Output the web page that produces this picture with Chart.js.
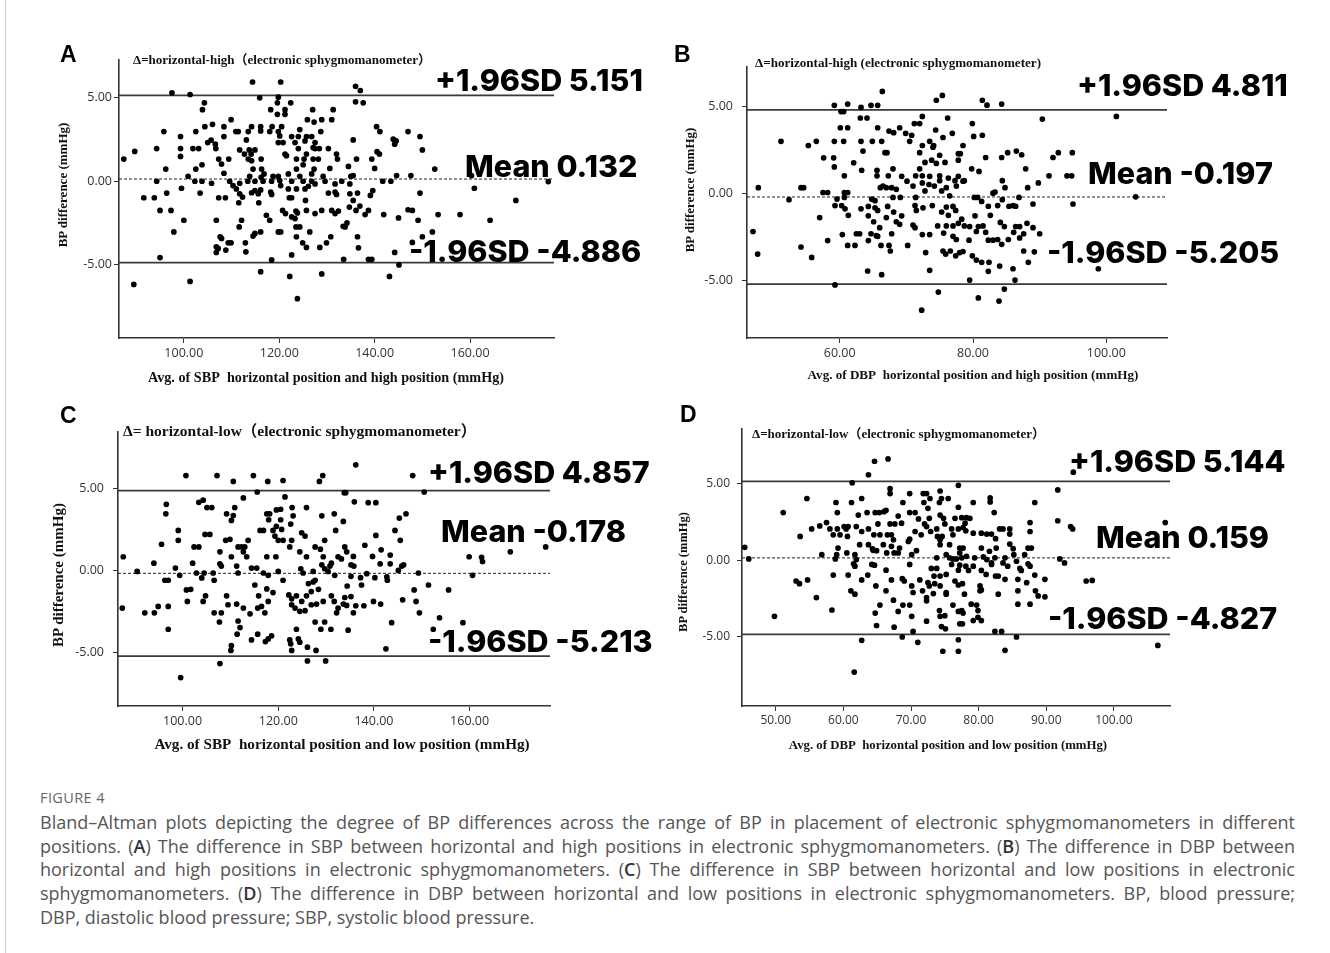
<!DOCTYPE html>
<html><head><meta charset="utf-8">
<script src="https://cdn.jsdelivr.net/npm/chart.js@4.4.0/dist/chart.umd.min.js"></script>
<style>
html,body{margin:0;padding:0;background:#fff;}
body{width:1330px;height:953px;position:relative;overflow:hidden;}
canvas{position:absolute;}
.t{position:absolute;white-space:nowrap;}
.big{font-family:Inter,'Open Sans',sans-serif;font-weight:800;color:#000;transform:translateY(-50%);}
.ser{font-family:'Liberation Serif','Times New Roman','Noto Sans CJK SC',serif;font-weight:bold;color:#111;}
.letter{font-family:'Liberation Sans',Arial,sans-serif;font-weight:bold;color:#000;transform:translateY(-50%);}
.ctr{transform:translate(-50%,-50%);}
.rot{transform:translate(-50%,-50%) rotate(-90deg);}
.lefty{transform:translateY(-50%);}
.cap{position:absolute;left:40px;width:1255px;font-family:'Open Sans',sans-serif;font-size:18px;line-height:18px;color:#555;white-space:nowrap;transform:translateY(-50%);}
.cap.j{text-align:justify;text-align-last:justify;white-space:normal;}
.cap b{color:#333;font-weight:600;}
#fig{position:absolute;left:40px;top:797px;transform:translateY(-50%);font-family:'Open Sans',sans-serif;font-size:14.5px;line-height:15px;color:#666;letter-spacing:0.4px;}
#edge{position:absolute;left:5px;top:0;width:1px;height:953px;background:#ccc;}
</style></head>
<body>
<div id="edge"></div>
<canvas id="cA" width="520" height="340" style="left:50px;top:50px;width:520px;height:340px"></canvas>
<canvas id="cB" width="520" height="340" style="left:675px;top:50px;width:520px;height:340px"></canvas>
<canvas id="cC" width="520" height="340" style="left:50px;top:415px;width:520px;height:340px"></canvas>
<canvas id="cD" width="520" height="340" style="left:675px;top:415px;width:520px;height:340px"></canvas>
<div id="fig">FIGURE 4</div>
<div class="cap j" style="top:822px">Bland–Altman plots depicting the degree of BP differences across the range of BP in placement of electronic sphygmomanometers in different</div>
<div class="cap j" style="top:846px">positions. (<b>A</b>) The difference in SBP between horizontal and high positions in electronic sphygmomanometers. (<b>B</b>) The difference in DBP between</div>
<div class="cap j" style="top:869px">horizontal and high positions in electronic sphygmomanometers. (<b>C</b>) The difference in SBP between horizontal and low positions in electronic</div>
<div class="cap j" style="top:893px">sphygmomanometers. (<b>D</b>) The difference in DBP between horizontal and low positions in electronic sphygmomanometers. BP, blood pressure;</div>
<div class="cap" style="top:917px">DBP, diastolic blood pressure; SBP, systolic blood pressure.</div>
<script>
// ---------------- DATA ----------------
const panelLetters = ['A','B','C','D'];
const panelTitles = [
  'Δ=horizontal-high（electronic sphygmomanometer）',
  'Δ=horizontal-high (electronic sphygmomanometer)',
  'Δ= horizontal-low（electronic sphygmomanometer）',
  'Δ=horizontal-low（electronic sphygmomanometer）'
];
const xTitles = [
  'Avg. of SBP\u00a0 horizontal position and high position (mmHg)',
  'Avg. of DBP\u00a0 horizontal position and high position (mmHg)',
  'Avg. of SBP\u00a0 horizontal position and low position (mmHg)',
  'Avg. of DBP\u00a0 horizontal position and low position (mmHg)'
];
const yTitle = 'BP difference (mmHg)';
const upperLoA = [5.151, 4.811, 4.857, 5.144];
const meanDiff = [0.132, -0.197, -0.178, 0.159];
const lowerLoA = [-4.886, -5.205, -5.213, -4.827];
const xTicksA = [100, 120, 140, 160];
const xTicksB = [60, 80, 100];
const xTicksC = [100, 120, 140, 160];
const xTicksD = [50, 60, 70, 80, 90, 100];
const yTicks = [-5, 0, 5];
const xRangeA = [86.4, 177.6], yRangeA = [-9.4, 7.3];
const xRangeB = [46.1, 109.1], yRangeB = [-8.3, 7.3];
const xRangeC = [86.5, 176.8], yRangeC = [-8.25, 8.45];
const xRangeD = [45.0, 108.3], yRangeD = [-9.5, 8.55];

const ptsA = [[114.4,5.95],[120.3,5.95],[97.5,5.30],[101.3,5.20],[115.9,5.00],[119.8,5.04],[119.6,4.70],[122.4,4.70],[104.3,4.70],[103.9,4.29],[118.2,4.29],[119.6,4.01],[121.2,4.29],[121.2,4.01],[127.0,4.29],[131.3,4.29],[109.9,3.69],[106.0,3.41],[104.4,3.27],[108.4,3.27],[114.2,3.27],[116.1,3.27],[116.1,3.02],[118.5,3.27],[120.5,3.27],[125.9,3.69],[127.3,3.55],[128.9,3.69],[131.0,3.69],[95.8,2.98],[102.5,2.98],[99.3,2.68],[110.9,2.98],[111.4,2.98],[113.5,2.98],[118.0,2.98],[119.8,2.98],[120.1,2.72],[124.3,3.10],[122.6,2.68],[124.0,2.68],[125.7,2.68],[126.8,2.68],[128.7,2.98],[105.0,2.32],[105.7,2.46],[106.6,2.22],[108.4,2.68],[113.1,2.48],[119.8,2.32],[120.8,2.32],[123.3,2.32],[125.4,2.42],[127.5,2.32],[127.1,2.02],[94.3,1.96],[99.3,1.96],[101.9,1.96],[103.1,1.96],[106.7,1.96],[111.7,1.88],[113.7,1.88],[114.9,1.88],[124.0,1.96],[127.5,1.96],[128.4,1.96],[130.3,1.96],[89.7,1.79],[87.4,1.33],[99.3,1.49],[107.3,1.33],[109.4,1.33],[112.7,1.63],[114.1,1.63],[113.5,1.33],[114.2,1.23],[116.2,1.33],[121.2,1.63],[121.5,1.53],[123.6,1.33],[125.2,1.33],[125.7,1.63],[127.1,1.33],[128.2,1.33],[132.0,1.63],[132.2,1.33],[96.2,0.73],[102.5,0.73],[103.8,0.99],[107.9,1.03],[108.4,0.48],[114.5,0.73],[116.3,0.73],[116.8,0.44],[123.6,0.73],[125.0,0.99],[126.8,0.44],[127.3,0.73],[130.6,0.77],[100.9,0.30],[94.3,0],[102.3,0],[103.8,0],[105.8,-0.12],[109.6,0],[110.3,-0.26],[111.7,-0.12],[113.4,0],[113.8,0.30],[114.9,0],[116.2,0.24],[116.6,0],[118.7,0.30],[118.4,0],[119.8,0.30],[120.1,0.04],[121.9,0.44],[122.6,0],[124.3,0.30],[125.0,0],[126.8,0],[127.5,-0.16],[129.2,0.30],[129.6,0],[133.1,0],[131.7,-0.16],[91.6,-0.99],[93.8,-0.99],[96.4,-0.71],[99.5,-0.42],[103.4,-0.71],[107.3,-0.99],[108.7,-0.99],[111.0,-0.46],[111.7,-0.75],[112.3,-0.95],[111.5,-1.29],[114.2,-0.69],[114.9,-0.56],[115.6,-0.75],[116.1,-0.52],[118.2,-0.65],[118.4,-0.79],[120.3,-0.26],[121.9,-0.46],[122.1,-0.99],[122.6,-0.99],[123.6,-0.46],[125.4,-0.46],[125.5,-1.15],[126.1,-0.30],[130.3,-0.71],[131.7,-0.65],[132.0,-0.79],[95.0,-1.75],[97.3,-1.75],[100.0,-2.34],[106.8,-2.34],[112.1,-2.34],[115.7,-1.29],[117.3,-2.04],[118.0,-2.34],[120.7,-1.75],[121.3,-1.94],[122.6,-2.14],[123.5,-1.79],[123.3,-2.24],[123.8,-1.90],[125.7,-1.75],[127.5,-1.94],[128.9,-1.75],[131.0,-1.75],[131.7,-1.94],[132.4,-1.79],[133.4,-2.70],[97.9,-3.04],[111.6,-2.74],[114.9,-3.13],[116.1,-3.04],[119.8,-3.04],[120.3,-3.04],[123.5,-2.74],[124.3,-2.74],[123.6,-3.33],[126.4,-3.04],[107.6,-3.33],[107.9,-3.43],[106.8,-3.93],[107.2,-4.03],[106.8,-4.27],[108.8,-4.13],[109.3,-3.69],[109.9,-3.69],[112.9,-3.69],[113.0,-4.23],[114.5,-3.29],[124.9,-3.69],[125.7,-3.97],[128.5,-3.97],[129.9,-3.69],[130.8,-3.33],[122.6,-4.42],[95.0,-4.58],[118.4,-4.72],[133.5,-4.68],[116.1,-5.42],[122.2,-5.71],[128.9,-5.56],[101.3,-6.01],[89.5,-6.19],[123.8,-7.04],
[136.0,5.69],[137.0,5.44],[136.0,4.76],[137.6,4.70],[140.4,3.27],[141.1,2.98],[147.0,2.98],[149.5,2.68],[143.9,2.52],[144.5,2.42],[144.2,2.22],[135.5,2.48],[150.0,1.88],[140.5,1.77],[141.0,1.63],[139.4,1.33],[136.2,1.33],[134.5,0.89],[140.0,0.77],[152.6,0.73],[135.5,0.34],[135.0,0.30],[144.6,0.34],[147.6,0.34],[141.7,0],[143.4,0],[134.8,-0.16],[160.9,-0.42],[176.4,-0.02],[160.3,0.34],[134.8,-0.75],[136.4,-0.71],[139.6,-0.56],[139.1,-0.85],[149.5,-0.71],[169.6,-1.15],[135.5,-1.15],[134.7,-1.55],[136.9,-1.49],[136.1,-1.75],[138.7,-1.75],[138.0,-2.00],[141.9,-2.00],[145.0,-2.20],[147.0,-1.71],[147.9,-1.75],[149.1,-2.34],[153.3,-2.00],[157.9,-2.00],[164.2,-2.34],[134.2,-2.50],[133.8,-2.74],[136.4,-3.33],[136.6,-3.99],[147.9,-3.67],[150.0,-3.33],[152.1,-3.04],[144.2,-4.27],[138.7,-4.68],[139.4,-4.68],[145.1,-5.02],[143.1,-5.71]];

const ptsB = [[66.4,5.87],[74.5,5.36],[75.4,5.64],[59.2,5.07],[61.2,5.14],[63.2,4.95],[64.7,5.07],[65.7,5.07],[60.2,4.71],[60.6,4.71],[63.1,4.34],[64.1,4.34],[72.4,4.43],[76.2,4.34],[71.2,4.02],[72.0,4.02],[60.1,3.78],[61.2,3.78],[65.7,3.78],[67.4,3.59],[68.1,3.50],[69.0,3.78],[69.9,3.46],[70.8,3.35],[74.4,3.65],[76.9,3.46],[51.2,3.00],[55.3,2.76],[56.5,3.00],[59.2,3.00],[60.6,3.00],[63.2,3.00],[64.9,3.00],[66.3,3.00],[70.5,3.00],[72.4,2.76],[73.5,3.00],[74.1,2.76],[75.5,3.22],[63.5,2.44],[66.8,2.35],[67.1,2.35],[72.0,2.35],[74.0,2.66],[75.0,2.20],[77.8,2.29],[57.6,2.05],[59.1,2.05],[62.1,1.77],[59.2,1.53],[65.6,1.34],[68.0,1.42],[63.3,1.34],[72.8,1.79],[73.8,1.92],[74.5,1.73],[75.8,1.79],[77.8,1.92],[60.7,1.02],[65.6,1.02],[69.3,0.99],[72.0,1.42],[72.4,1.02],[73.5,0.99],[67.3,1.02],[71.4,1.02],[75.0,1.02],[76.3,0.89],[77.3,0.74],[77.8,0.99],[54.2,0.34],[54.6,0.34],[57.5,0.06],[58.2,0.06],[60.7,0.06],[61.2,0.06],[66.1,0.34],[66.5,0.43],[67.0,0.34],[67.8,0.34],[68.5,0.24],[70.1,0.71],[71.0,0.43],[72.4,0.61],[73.4,0.52],[74.2,0.43],[75.0,0.74],[76.0,0.34],[77.5,0.43],[47.8,0.34],[52.4,-0.35],[59.6,-0.32],[60.7,-0.22],[64.8,-0.32],[65.3,-0.41],[68.0,-0.22],[69.1,-0.22],[72.8,0.15],[75.3,0.15],[76.5,-0.13],[71.4,-0.22],[59.3,-0.69],[60.3,-0.69],[60.8,-0.88],[61.3,-1.25],[63.2,-0.88],[64.3,-0.74],[65.3,-0.82],[65.7,-0.97],[67.2,-0.74],[72.5,-0.82],[73.9,-0.69],[76.0,-0.78],[77.0,-0.74],[57.0,-1.38],[64.3,-1.28],[67.0,-1.38],[68.1,-1.06],[69.3,-1.28],[71.3,-0.69],[71.5,-0.97],[75.3,-1.06],[76.3,-1.25],[77.4,-0.97],[65.1,-1.62],[66.0,-1.96],[68.5,-1.62],[69.0,-1.77],[71.0,-1.81],[71.3,-1.96],[74.7,-1.86],[76.0,-1.86],[77.0,-1.86],[77.8,-1.71],[47.0,-2.18],[60.4,-2.36],[62.5,-2.31],[63.0,-2.31],[64.7,-2.31],[65.5,-2.42],[65.7,-2.46],[67.8,-2.31],[72.4,-2.36],[73.5,-2.36],[75.6,-2.27],[77.0,-2.46],[77.5,-2.64],[58.2,-2.70],[61.2,-2.98],[62.3,-2.98],[64.3,-2.70],[66.2,-2.98],[67.4,-2.98],[67.6,-3.30],[70.2,-2.98],[72.9,-3.39],[75.5,-3.30],[75.9,-3.48],[76.6,-3.30],[77.4,-3.58],[78.0,-3.39],[47.7,-3.48],[54.2,-3.07],[55.8,-3.67],[64.2,-4.45],[66.3,-4.66],[73.5,-4.41],[59.3,-5.25],[74.8,-5.66],[72.3,-6.70],
[81.4,5.36],[82.1,5.08],[84.3,5.14],[90.4,4.28],[101.5,4.43],[79.9,4.02],[80.1,3.28],[81.4,3.35],[78.5,2.76],[78.1,2.29],[81.9,2.07],[84.3,2.07],[85.2,2.35],[86.5,2.44],[87.3,2.23],[87.9,1.42],[92.0,2.07],[92.8,2.35],[94.9,2.35],[91.4,1.02],[94.1,1.02],[94.8,1.02],[89.8,0.61],[79.8,1.42],[80.9,1.27],[78.7,0.74],[78.5,0.71],[84.4,0.74],[84.8,0.34],[83.3,0.09],[83.0,0.02],[88.2,0.34],[80.2,-0.22],[80.7,-0.22],[81.3,-0.45],[82.3,-0.73],[83.7,-0.69],[84.4,-0.35],[85.4,-0.73],[86.0,-0.69],[86.4,-0.73],[86.9,-0.22],[89.0,-0.60],[95.0,-0.60],[104.4,-0.19],[78.3,-1.47],[80.3,-1.28],[82.6,-1.25],[78.7,-1.86],[79.5,-1.90],[80.8,-1.90],[81.5,-1.86],[80.5,-2.18],[81.9,-2.23],[84.1,-1.66],[84.7,-1.90],[86.4,-1.90],[87.0,-1.90],[88.1,-1.71],[89.0,-1.96],[86.1,-2.23],[87.6,-2.31],[90.0,-2.31],[87.0,-2.55],[82.3,-2.68],[83.0,-2.68],[83.7,-2.64],[84.3,-2.92],[85.3,-2.64],[79.4,-2.68],[78.5,-3.33],[79.9,-3.58],[80.5,-3.82],[81.3,-3.95],[82.4,-3.95],[84.0,-4.17],[86.0,-4.32],[82.3,-4.47],[87.6,-3.30],[89.2,-3.35],[88.3,-3.95],[98.8,-4.32],[79.5,-4.97],[86.3,-4.97],[84.7,-5.49],[80.8,-6.00],[83.9,-6.18]];

const ptsC = [[100.7,5.77],[107.2,5.77],[114.8,5.77],[110.6,5.41],[117.8,5.41],[121.0,5.47],[128.6,5.41],[129.3,5.77],[115.6,4.77],[112.7,4.41],[121.4,4.47],[133.8,4.73],[96.6,4.02],[96.5,3.44],[103.4,4.14],[104.3,4.27],[105.1,3.82],[106.1,3.82],[109.2,3.44],[110.9,3.82],[110.2,3.04],[110.6,3.34],[117.6,3.44],[118.2,3.44],[119.6,3.68],[120.5,3.72],[122.9,3.82],[123.1,3.32],[125.9,3.82],[129.1,3.32],[131.7,3.44],[118.0,3.08],[120.5,3.08],[122.6,2.82],[133.6,2.98],[99.1,2.43],[99.1,1.83],[95.6,1.59],[102.4,1.43],[103.4,1.43],[104.7,2.19],[105.7,2.19],[109.0,1.83],[109.9,1.89],[113.7,1.83],[111.6,1.43],[112.3,1.43],[113.0,1.43],[116.2,2.43],[116.9,2.43],[118.9,2.43],[119.3,2.09],[120.0,1.83],[121.0,1.83],[122.8,1.83],[119.6,2.68],[120.7,2.49],[124.9,2.29],[125.6,2.09],[129.7,1.83],[132.0,2.43],[133.9,1.43],[87.6,0.83],[94.0,0.44],[102.1,0.44],[107.8,1.13],[110.2,0.83],[112.7,1.13],[113.4,0.83],[117.6,0.83],[119.5,0.83],[122.4,1.43],[124.5,1.13],[125.9,0.83],[127.7,1.43],[128.8,1.29],[129.4,0.83],[131.1,0.44],[132.5,0.83],[133.2,0.70],[90.5,-0.06],[98.5,0.14],[99.4,-0.30],[96.3,-0.60],[97.0,-0.60],[102.9,-0.16],[104.0,-0.46],[104.5,-0.16],[106.4,-0.16],[106.6,-0.60],[107.8,0.40],[108.1,0.26],[111.3,0.26],[111.6,-0.16],[114.4,0.14],[115.5,0.14],[116.9,-0.16],[117.9,-0.30],[120.0,-0.06],[121.0,-0.60],[124.7,0.10],[125.2,-0.16],[127.3,-0.06],[129.1,0.34],[129.7,0.10],[130.8,0.26],[131.8,-0.30],[127.7,-0.60],[130.4,-0.06],[101.7,-1.15],[100.8,-1.19],[104.8,-1.55],[104.3,-1.89],[101.0,-1.89],[109.2,-1.55],[115.1,-0.89],[115.9,-1.55],[117.6,-1.13],[118.9,-1.35],[122.2,-1.49],[122.8,-1.73],[123.8,-1.55],[124.9,-1.89],[125.9,-1.55],[126.9,-1.29],[128.4,-1.15],[129.4,-1.89],[131.1,-1.55],[131.7,-1.89],[133.9,-1.65],[126.3,-0.80],[127.3,-0.70],[87.4,-2.29],[92.1,-2.58],[94.1,-2.58],[94.9,-2.19],[97.0,-2.19],[106.6,-2.58],[108.1,-2.58],[109.5,-2.09],[111.3,-2.05],[112.7,-2.29],[114.1,-2.64],[115.7,-2.29],[116.5,-2.19],[117.2,-2.58],[117.9,-1.89],[122.8,-2.09],[123.5,-2.29],[124.5,-2.49],[125.6,-2.45],[126.9,-2.09],[128.0,-2.05],[132.2,-2.58],[132.5,-2.29],[133.6,-2.05],[97.0,-3.58],[107.7,-3.14],[111.6,-3.08],[112.0,-3.48],[111.4,-3.88],[114.4,-4.23],[115.7,-3.88],[117.3,-4.33],[117.9,-4.17],[118.6,-3.98],[122.4,-4.23],[122.6,-4.47],[124.2,-4.17],[124.5,-4.37],[123.8,-3.58],[127.7,-3.14],[129.7,-3.14],[128.9,-3.58],[131.0,-3.58],[110.2,-4.57],[110.1,-4.87],[122.8,-4.87],[126.1,-4.67],[127.9,-4.87],[107.8,-5.67],[126.1,-5.51],[129.9,-5.51],[99.6,-6.52],
[136.2,6.42],[148.1,5.77],[150.5,4.77],[134.1,4.73],[135.9,4.17],[138.8,4.12],[140.4,4.12],[145.3,3.18],[146.7,3.44],[144.4,2.43],[145.5,1.83],[140.4,2.13],[134.3,1.13],[135.7,0.85],[138.1,1.53],[139.7,0.85],[141.5,1.25],[143.4,0.93],[159.9,0.83],[162.5,0.80],[162.7,0.54],[168.5,1.13],[175.9,1.43],[135.2,0.34],[135.8,0.26],[141.3,0.40],[143.4,0.40],[145.1,0],[146.2,0.34],[145.8,0.26],[149.3,-0.16],[160.6,-0.30],[134.4,-0.95],[135.2,-0.36],[137.2,-0.44],[137.4,-0.89],[138.5,-0.20],[140.2,-0.44],[142.7,-0.40],[142.8,-0.60],[148.4,-1.19],[151.4,-0.89],[155.6,-1.19],[135.2,-1.59],[134.3,-2.13],[136.2,-2.15],[137.9,-2.15],[139.9,-1.89],[141.4,-2.05],[135.7,-2.58],[146.0,-1.79],[148.8,-1.89],[149.5,-2.58],[143.7,-3.18],[153.7,-2.88],[158.6,-3.18],[152.4,-3.58],[134.6,-3.64],[142.5,-4.77]];

const ptsD = [[64.6,6.46],[66.6,6.61],[63.7,5.58],[61.3,5.05],[77.0,4.89],[66.9,4.67],[66.9,4.35],[69.8,4.35],[71.8,4.35],[72.3,4.35],[74.3,4.52],[74.5,4.03],[72.8,4.03],[75.5,4.03],[54.6,4.03],[58.9,3.77],[61.2,3.77],[62.7,4.03],[68.8,3.77],[71.9,3.77],[74.2,3.77],[77.0,3.46],[51.1,3.11],[59.1,3.11],[62.2,2.95],[63.5,3.11],[64.7,3.11],[65.3,3.11],[66.0,3.17],[66.3,3.26],[68.1,2.89],[69.8,3.11],[70.6,3.11],[72.5,3.39],[72.7,2.74],[74.3,2.95],[74.8,2.74],[76.5,2.74],[71.1,2.70],[57.5,2.46],[56.5,2.24],[55.3,2.05],[58.0,2.05],[59.1,2.05],[60.1,2.20],[60.4,2.05],[60.7,2.20],[61.9,2.20],[62.7,1.88],[63.7,2.05],[65.1,2.37],[66.9,2.37],[67.6,2.37],[68.6,2.42],[72.0,2.37],[72.3,2.20],[72.9,1.88],[73.8,2.05],[75.0,2.37],[76.0,2.05],[77.0,2.05],[53.6,1.56],[58.5,1.66],[59.5,1.66],[60.6,1.56],[64.5,1.66],[65.4,1.66],[66.5,1.66],[67.1,1.66],[67.4,1.34],[70.6,1.88],[69.8,1.38],[71.5,1.66],[69.6,1.23],[73.9,1.56],[74.3,1.34],[74.6,1.56],[76.2,1.66],[45.4,0.85],[59.2,0.80],[62.4,1.02],[63.7,1.02],[64.3,0.74],[64.9,0.63],[65.9,1.02],[67.1,0.91],[68.3,0.80],[70.8,0.63],[74.3,1.02],[75.7,1.02],[77.2,0.80],[46.0,0.09],[56.8,0.37],[58.8,0.09],[59.0,0.37],[60.5,0.48],[61.7,0.37],[61.9,0.05],[64.4,0.65],[66.4,0.48],[67.5,0.48],[68.1,0.48],[70.1,0.37],[73.8,0.16],[75.2,0.37],[75.7,0.16],[76.2,0.09],[76.7,0.09],[61.5,-0.23],[61.7,-0.38],[64.2,-0.27],[64.6,-0.32],[66.3,-0.64],[69.8,-0.27],[73.0,-0.53],[73.8,-0.53],[76.0,-0.27],[77.2,-0.32],[77.0,-0.64],[53.0,-1.35],[53.5,-1.52],[54.7,-1.28],[58.5,-0.96],[60.7,-0.96],[62.7,-1.28],[63.6,-0.96],[64.8,-1.67],[66.3,-1.99],[67.1,-1.28],[68.7,-1.20],[69.0,-1.35],[70.1,-1.67],[70.3,-2.10],[71.3,-1.28],[71.7,-1.99],[72.5,-1.45],[72.7,-1.67],[73.5,-1.52],[74.3,-1.67],[75.2,-2.10],[76.5,-1.35],[77.0,-1.61],[73.4,-1.03],[74.3,-1.03],[75.2,-0.92],[56.0,-2.43],[61.1,-1.99],[61.7,-2.21],[65.4,-2.92],[67.4,-2.60],[68.8,-2.92],[69.8,-2.92],[72.3,-2.64],[73.3,-2.17],[75.2,-2.21],[76.2,-2.92],[72.3,-2.43],[49.8,-3.65],[58.3,-3.24],[64.7,-3.44],[68.1,-3.33],[70.1,-3.65],[72.3,-3.97],[74.2,-3.28],[74.3,-3.65],[75.0,-3.61],[74.5,-4.32],[75.1,-4.47],[77.0,-3.33],[77.2,-4.14],[64.9,-4.25],[67.5,-4.36],[68.7,-5.00],[70.3,-4.64],[62.7,-5.22],[71.0,-5.35],[74.7,-5.93],[77.0,-5.93],[77.0,-5.18],[61.6,-7.29],
[94.0,5.75],[91.7,4.59],[81.7,4.07],[81.7,3.81],[79.2,3.77],[88.3,3.77],[82.3,3.11],[77.5,2.78],[78.2,2.78],[78.7,2.74],[87.6,2.46],[91.7,2.58],[93.6,2.20],[93.9,2.05],[107.6,2.46],[78.0,2.42],[77.7,2.14],[78.1,1.92],[79.2,1.77],[80.4,1.77],[81.2,1.71],[81.9,1.71],[82.5,1.41],[83.1,2.05],[83.6,2.05],[84.6,2.05],[84.6,1.71],[87.6,1.88],[77.7,0.80],[80.4,0.80],[81.6,0.59],[82.6,0.80],[84.6,1.06],[85.1,0.76],[87.3,0.80],[87.8,0.80],[77.2,0.48],[77.5,0.16],[78.2,0.26],[79.4,0.16],[80.7,0.22],[81.2,0.05],[81.9,-0.17],[82.4,0.16],[83.6,-0.17],[83.9,0.16],[84.3,-0.38],[85.2,0.37],[85.6,-0.06],[86.8,0.37],[87.3,-0.23],[87.6,-0.38],[92.0,0.09],[92.7,-0.17],[78.1,-0.38],[79.2,-0.38],[78.5,-0.66],[80.4,-0.66],[81.1,-0.92],[81.9,-0.27],[82.5,-1.03],[82.9,-1.03],[83.9,-1.24],[86.1,-0.53],[86.3,-0.66],[85.8,-1.24],[87.1,-1.46],[88.3,-0.96],[89.8,-1.24],[95.9,-1.35],[96.8,-1.31],[77.6,-1.52],[77.9,-2.21],[80.2,-1.67],[80.2,-1.99],[80.4,-1.93],[82.9,-2.21],[85.8,-1.99],[88.4,-1.99],[88.8,-2.32],[89.8,-2.38],[77.5,-3.28],[78.9,-2.86],[79.7,-2.92],[77.7,-3.44],[79.9,-3.28],[79.9,-3.72],[79.2,-3.93],[80.4,-3.93],[77.6,-4.14],[85.8,-2.86],[87.6,-2.86],[82.4,-4.64],[83.4,-4.64],[85.6,-5.00],[83.9,-5.87],[106.5,-5.55]];

// ---------------- LAYOUT ----------------
const layouts = [
  {canvas:'cA', pts:ptsA, xr:xRangeA, yr:yRangeA, xt:xTicksA, yW:69, top:8, right:16, xH:52, yPad:2, xPad:3, fs:12.5,
   letter:[60,54], title:[133,59,13], up:[435,80], mean:[465,166], low:[409,251], yT:[62,185,13], xT:[326,377,14.2]},
  {canvas:'cB', pts:ptsB, xr:xRangeB, yr:yRangeB, xt:xTicksB, yW:72, top:8, right:28, xH:52, yPad:9, xPad:3, fs:12.5,
   letter:[674,54], title:[755,63,13.1], up:[1077,85], mean:[1088,173], low:[1047,252], yT:[689,190,13], xT:[973,375,13.1]},
  {canvas:'cC', pts:ptsC, xr:xRangeC, yr:yRangeC, xt:xTicksC, yW:68, top:11, right:20, xH:49, yPad:9, xPad:3, fs:12.5,
   letter:[60,415], title:[123,431,15.5], up:[428,472], mean:[441,531], low:[428,641], yT:[58,575,15], xT:[342,744,15.2]},
  {canvas:'cD', pts:ptsD, xr:xRangeD, yr:yRangeD, xt:xTicksD, yW:67, top:12, right:25, xH:49, yPad:7, xPad:2, fs:12,
   letter:[680,414], title:[752,433,13], up:[1069,461], mean:[1096,537], low:[1048,618], yT:[683,572,12.5], xT:[948,745,12.8]}
];

function addText(txt, x, y, cls, fs) {
  const d = document.createElement('div');
  d.className = 't ' + cls;
  d.textContent = txt;
  d.style.left = x + 'px';
  d.style.top = y + 'px';
  d.style.fontSize = fs + 'px';
  d.style.lineHeight = fs + 'px';
  document.body.appendChild(d);
  return d;
}
const fmt = v => (v < 0 ? '-' : '') + Math.abs(v).toFixed(3);

layouts.forEach((L, i) => {
  const axisColor = '#333';
  const tickFont = {family:"'Open Sans', sans-serif", size:L.fs};
  const lineDs = (val, dash, w) => ({
    type:'line', data:[{x:L.xr[0], y:val}, {x:L.xr[1], y:val}],
    borderColor: dash ? '#222' : '#3a3a3a', borderWidth:w, borderDash: dash ? [3,2] : [],
    pointRadius:0, fill:false, order:2
  });
  new Chart(document.getElementById(L.canvas), {
    type:'scatter',
    data:{datasets:[
      {data:L.pts.map(p => ({x:p[0], y:p[1]})), backgroundColor:'#000', borderWidth:0, pointRadius:2.85, pointHoverRadius:2.85, order:0},
      lineDs(upperLoA[i], false, 1.7),
      lineDs(meanDiff[i], true, 1),
      lineDs(lowerLoA[i], false, 1.7)
    ]},
    options:{
      responsive:false, animation:false, devicePixelRatio:1,
      layout:{padding:{left:0, top:L.top, right:L.right, bottom:0}},
      plugins:{legend:{display:false}, tooltip:{enabled:false}},
      events:[],
      scales:{
        x:{type:'linear', min:L.xr[0], max:L.xr[1],
          afterBuildTicks:s => { s.ticks = L.xt.map(v => ({value:v})); },
          afterFit:s => { s.height = L.xH; },
          ticks:{callback:v => Number(v).toFixed(2), font:tickFont, color:'#333', padding:L.xPad, maxRotation:0, autoSkip:false},
          grid:{display:true, drawOnChartArea:false, drawTicks:true, tickLength:5, color:axisColor, lineWidth:1},
          border:{display:true, color:axisColor, width:1.6}},
        y:{type:'linear', min:L.yr[0], max:L.yr[1],
          afterBuildTicks:s => { s.ticks = yTicks.map(v => ({value:v})); },
          afterFit:s => { s.width = L.yW; },
          ticks:{callback:v => Number(v).toFixed(2), font:tickFont, color:'#333', padding:L.yPad, autoSkip:false},
          grid:{display:true, drawOnChartArea:false, drawTicks:true, tickLength:5, color:axisColor, lineWidth:1},
          border:{display:true, color:axisColor, width:1.6}}
      }
    }
  });
  addText(panelLetters[i], L.letter[0], L.letter[1], 'letter', 23);
  addText(panelTitles[i], L.title[0], L.title[1], 'ser lefty', L.title[2]);
  addText('+1.96SD ' + fmt(upperLoA[i]), L.up[0], L.up[1], 'big', 30.5);
  addText('Mean ' + fmt(meanDiff[i]), L.mean[0], L.mean[1], 'big', 30.5);
  addText('-1.96SD ' + fmt(lowerLoA[i]), L.low[0], L.low[1], 'big', 30.5);
  addText(yTitle, L.yT[0], L.yT[1], 'ser rot', L.yT[2]);
  addText(xTitles[i], L.xT[0], L.xT[1], 'ser ctr', L.xT[2]);
});
</script>
</body></html>
